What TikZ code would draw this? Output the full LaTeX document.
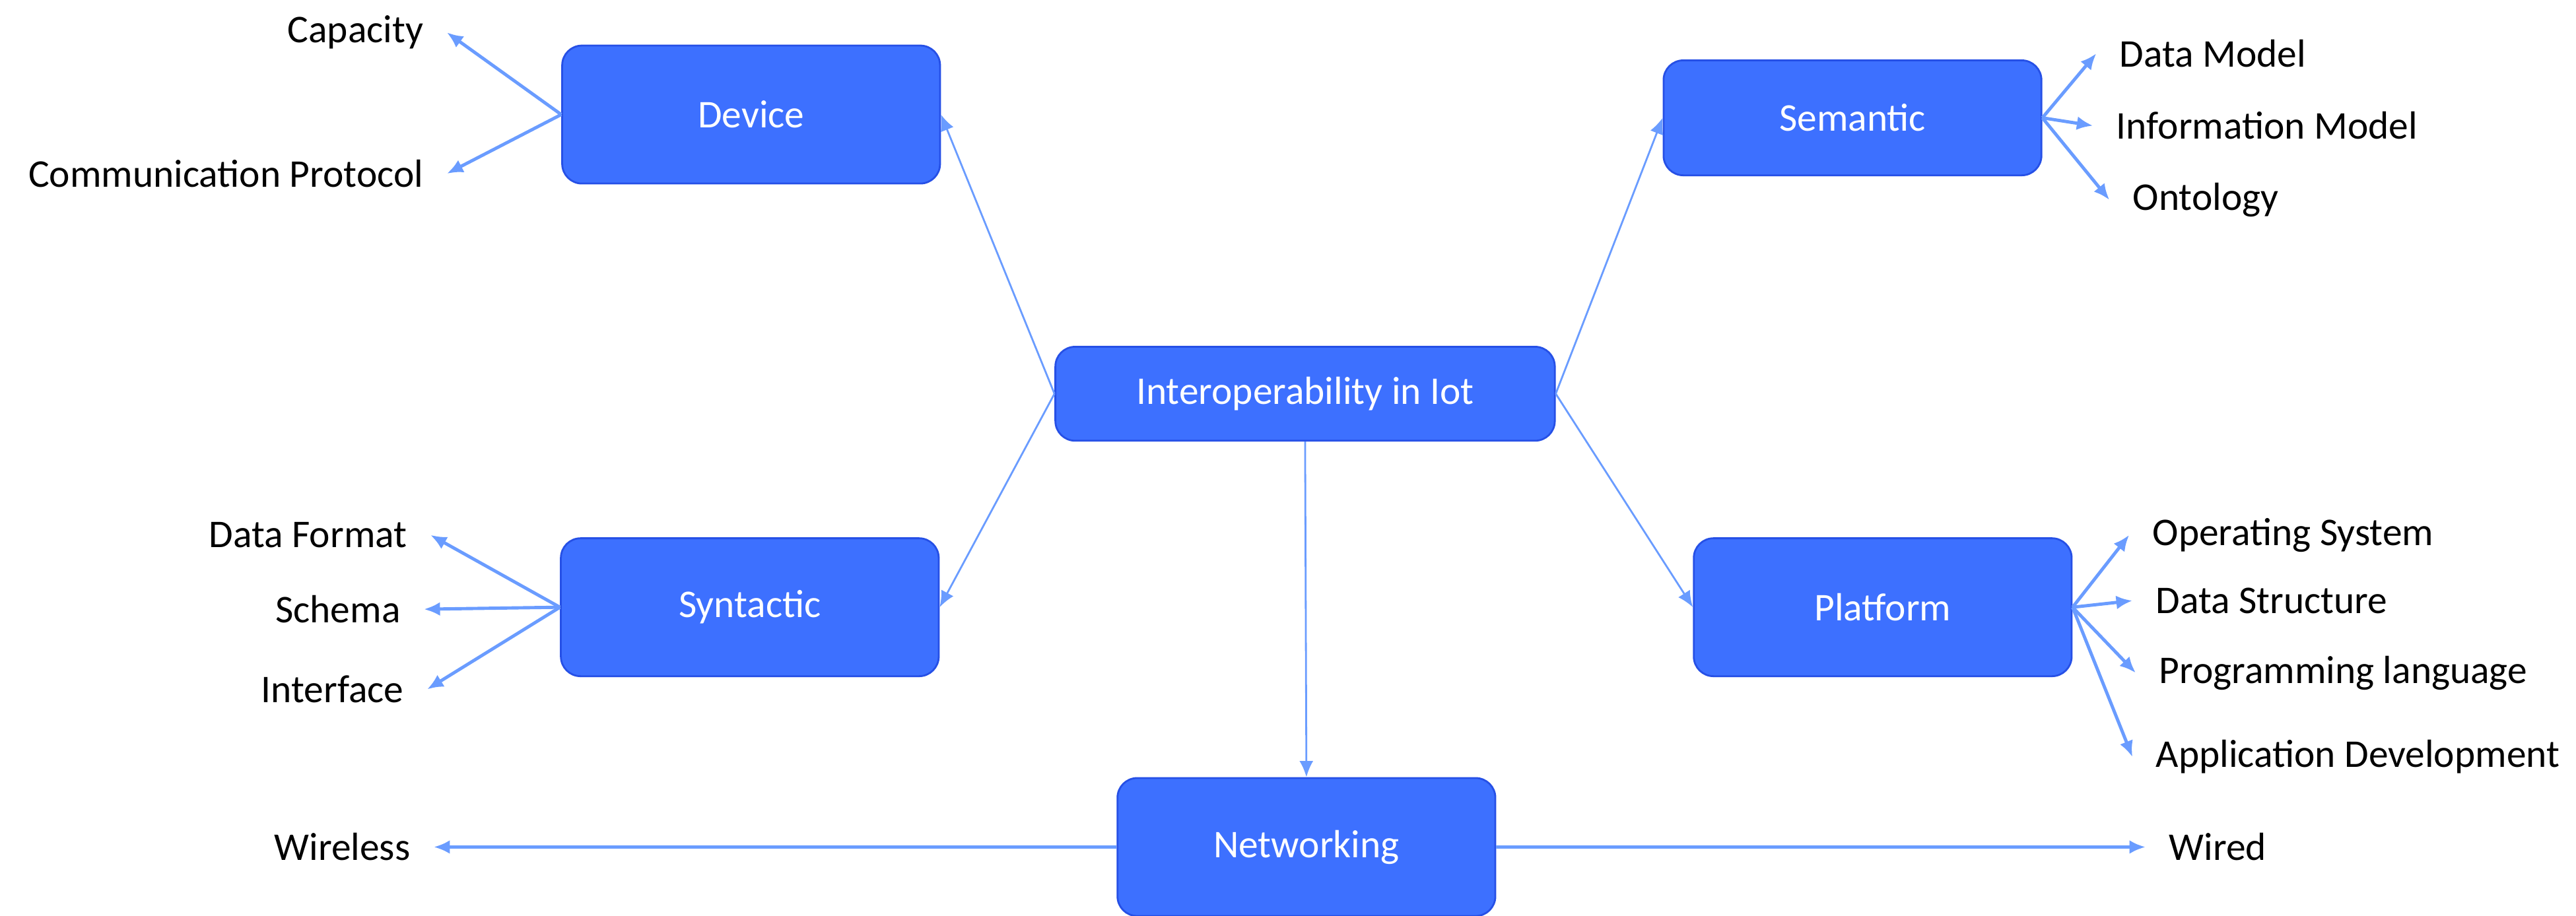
\documentclass[tikz,border=0pt]{standalone}
\usepackage{fontspec}
\setmainfont{Carlito}
\usetikzlibrary{arrows.meta, positioning}
\definecolor{boxblue}{HTML}{3D70FF}
\definecolor{boxedge}{HTML}{2650E6}
\definecolor{linkblue}{HTML}{6A9CFF}
\tikzset{
    %Define standard arrow tip
    >={Latex[length=7pt,width=6pt]},
}

\begin{document}
\begin{tikzpicture}[
    topic/.style = {draw=boxedge, line width=0.8pt, fill=boxblue, rounded corners=0.3cm,
                    text=white, font=\fontsize{17}{20}\selectfont,
                    minimum height=2.1cm, minimum width=5.75cm},
    item/.style = {font=\fontsize{17}{20}\selectfont, inner sep=0.35cm},
    link/.style = {->, draw=linkblue, line width=0.8pt},
    sublink/.style = {->, draw=linkblue, line width=1.4pt},
  ]
  \useasboundingbox (0,0) rectangle (39.2,13.944);
  \node[topic, minimum width=7.6cm, minimum height=1.43cm] (iot) at (19.86,7.95) {Interoperability in Iot};
  \node[topic] (device) at (11.43,12.2) {Device};
  \node[topic, minimum height=1.75cm] (semantic) at (28.19,12.15) {Semantic};
  \node[topic] (syntactic) at (11.41,4.7) {Syntactic};
  \node[topic] (platform) at (28.65,4.7) {Platform};
  \node[topic] (networking) at (19.88,1.05) {Networking};

  \draw[link] (iot.west) -- (device.east);
  \draw[link] (iot.west) -- (syntactic.east);
  \draw[link] (iot.east) -- (semantic.west);
  \draw[link] (iot.east) -- (platform.west);
  \draw[link] (iot.south) -- (networking.north);

  %device
  \node[item, anchor=east] (capacity) at (6.8,13.45) {Capacity};
  \node[item, anchor=east] (protocol) at (6.8,11.3) {Communication Protocol};
  \draw[sublink] (device.west) -- (capacity.east);
  \draw[sublink] (device.west) -- (protocol.east);

  %syntactic
  \node[item, anchor=east] (format) at (6.55,5.8) {Data Format};
  \node[item, anchor=east] (schema) at (6.45,4.67) {Schema};
  \node[item, anchor=east] (interface) at (6.5,3.45) {Interface};
  \draw[sublink] (syntactic.west) -- (format.east);
  \draw[sublink] (syntactic.west) -- (schema.east);
  \draw[sublink] (syntactic.west) -- (interface.east);

  %semantic
  \node[item, anchor=west] (datamodel) at (31.9,13.13) {Data Model};
  \node[item, anchor=west] (infomodel) at (31.85,12.03) {Information Model};
  \node[item, anchor=west] (ontology) at (32.1,10.9) {Ontology};
  \draw[sublink] (semantic.east) -- (datamodel.west);
  \draw[sublink] (semantic.east) -- (infomodel.west);
  \draw[sublink] (semantic.east) -- (ontology.west);

  %platform
  \node[item, anchor=west] (os) at (32.4,5.8) {Operating System};
  \node[item, anchor=west] (structure) at (32.45,4.8) {Data Structure};
  \node[item, anchor=west] (language) at (32.5,3.7) {Programming language};
  \node[item, anchor=west] (appdev) at (32.45,2.42) {Application Development};
  \draw[sublink] (platform.east) -- (os.west);
  \draw[sublink] (platform.east) -- (structure.west);
  \draw[sublink] (platform.east) -- (language.west);
  \draw[sublink] (platform.east) -- (appdev.west);

  %networking
  \node[item, anchor=east] (wireless) at (6.6,1.05) {Wireless};
  \node[item, anchor=west] (wired) at (32.65,1.05) {Wired};
  \draw[sublink] (networking.west) -- (wireless.east);
  \draw[sublink] (networking.east) -- (wired.west);
\end{tikzpicture}
\end{document}
